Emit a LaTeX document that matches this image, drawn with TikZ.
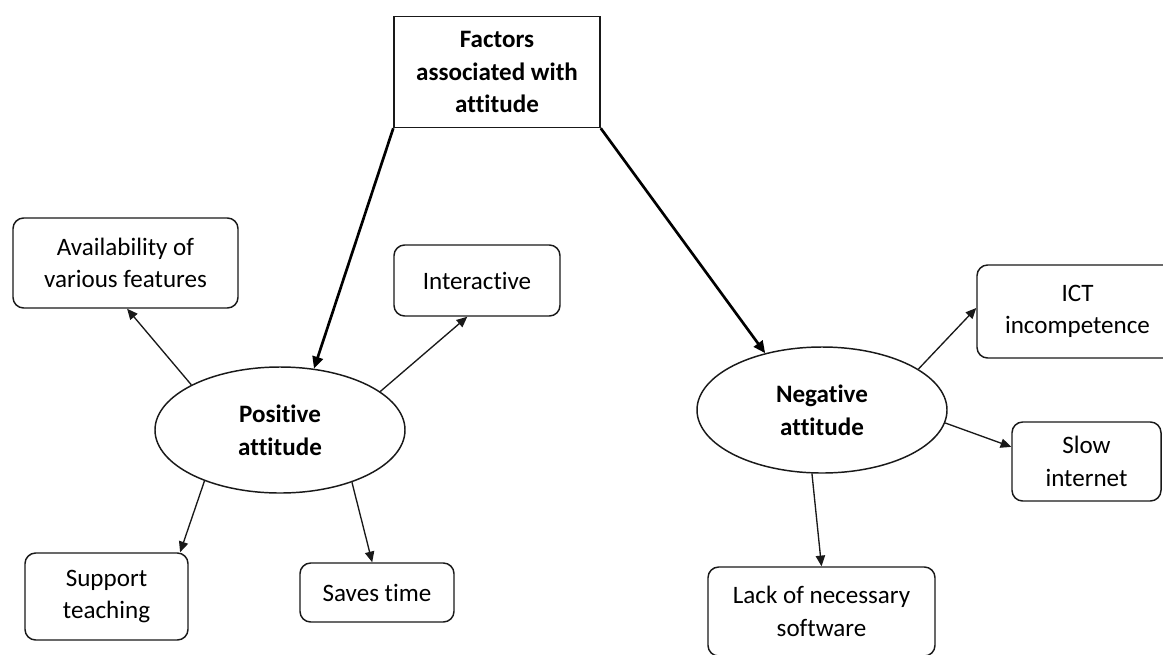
\documentclass[tikz,border=0pt]{standalone}
\usepackage{fontspec}
\setmainfont{Carlito}[Ligatures=NoCommon]
\usetikzlibrary{arrows.meta,shapes.geometric}
\begin{document}
\begin{tikzpicture}[x=0.75pt,y=-0.75pt,
  lbl/.style={font=\fontsize{18.8}{24.5}\selectfont, align=center, inner sep=0pt, line width=1.1pt, draw=black!90},
  sqbox/.style={lbl, rectangle},
  rbox/.style={lbl, rectangle, rounded corners=8pt},
  oval/.style={lbl, ellipse, font=\fontsize{18.8}{24.5}\selectfont\bfseries, minimum width=187.5pt, minimum height=94.5pt},
  thinarrow/.style={line width=1pt, draw=black!90, -{Triangle[length=8pt,width=7pt]}},
  thickarrow/.style={line width=2pt, draw=black, -{Triangle[length=9pt,width=8pt]}}
]
\useasboundingbox (0,0) rectangle (1163,654);
\fill[white] (0,0) rectangle (1163,654);

\node[sqbox, minimum width=154.5pt, minimum height=83.25pt, font=\fontsize{18.8}{24.5}\selectfont\bfseries] (top) at (497,72) {Factors\\associated with\\attitude};

\node[oval] (pos) at (280,430) {Positive\\attitude};
\node[oval] (neg) at (822,410) {Negative\\attitude};

\node[rbox, minimum width=168.75pt, minimum height=67.5pt] (avail) at (125.5,263) {Availability of\\various features};
\node[rbox, minimum width=124.5pt, minimum height=53.25pt] (inter) at (477,280.5) {Interactive};
\node[rbox, minimum width=122.25pt, minimum height=65.25pt] (support) at (106.5,596.5) {Support\\teaching};
\node[rbox, minimum width=115.5pt, minimum height=44.25pt] (saves) at (377,592.5) {Saves time};
\node[rbox, minimum width=150.75pt, minimum height=69.75pt] (ict) at (1077.5,311.5) {ICT\\incompetence};
\node[rbox, minimum width=111.75pt, minimum height=59.25pt] (slow) at (1086.5,461.5) {Slow\\internet};
\node[rbox, minimum width=170.25pt, minimum height=66.75pt] (lack) at (821.5,611.5) {Lack of necessary\\software};

\draw[thickarrow] (top.south west) -- (pos.61.7);
\draw[thickarrow] (top.south east) -- (neg.135.5);

\draw[thinarrow] (pos.153.9) -- (avail.-88.1);
\draw[thinarrow] (pos.21.4) -- (inter.-105.3);
\draw[thinarrow] (pos.214) -- (support.31.2);
\draw[thinarrow] (pos.-36.9) -- (saves.99.3);

\draw[thinarrow] (neg.23.3) -- (ict.178);
\draw[thinarrow] (neg.-6.4) -- (slow.169.9);
\draw[thinarrow] (neg.261.9) -- (lack.north);
\end{tikzpicture}
\end{document}
